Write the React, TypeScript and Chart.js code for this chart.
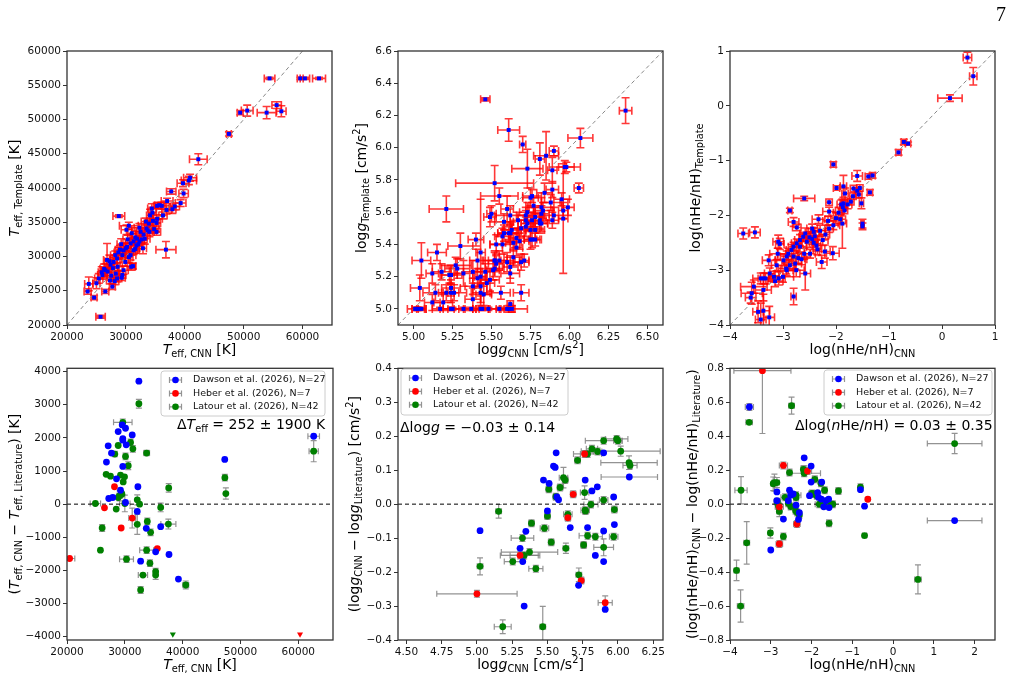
import React, { useEffect, useRef } from 'react';
import { Chart, registerables } from 'chart.js';
Chart.register(...registerables);

const FONT = '"DejaVu Sans", "Liberation Sans", sans-serif';

// ---------------- Panel 1: Teff CNN vs Template ----------------
const p1TeffCnn = [54400,59600,60400,62800,49400,50600,53900,55600,56400,47500,
42300,40900,40700,39700,39800,37700,39300,38300,37000,36100,
35300,35700,34500,34400,28800,30500,35200,36800,33900,33700,
32500,31900,31300,30800,30200,29600,29400,28500,27900,27800,
26800,26500,26000,25400,25000,23700,23500,24600,25700,26500,
27700,28500,29400,29300,30900,31200,29900,31300,31800,32300,
33000,32700,33500,34600,35300,34100,33400,32300,31000,30300,
30000,29200,28700,28200,27400,28600,27500,28100,26900,25900,
26300,27200,30800,31600,32100,30500,29600,28300,27300,33200,
34000,31600,36300,36900,37900,34800,35200,30100,29000,32900];
const p1TeffTpl = [56000,56000,56000,56000,51000,51300,51000,52100,51200,47900,
44200,41500,41100,40700,39200,39500,37800,37300,38100,37400,
37400,37500,36400,37000,35900,34500,34900,31000,34800,33800,
33600,32600,32200,31900,31400,30900,30200,29700,29200,28300,
29500,28000,27300,26800,26100,26000,24900,24000,21200,24900,
25600,26800,27300,26900,28500,28600,29200,30900,31600,32200,
33200,32500,34100,35200,35500,36000,35100,34200,33400,32500,
31200,31800,30600,30200,28800,28500,27200,26400,27800,27700,
28200,29300,30200,31100,31800,29900,28000,27500,26500,32600,
33600,32800,36000,36800,36900,34000,33600,33900,31000,31200];
const p1TeffCnnErr = [900,500,800,1100,500,1000,1600,800,800,400,
1500,1100,1300,1000,800,800,900,800,1000,700,
600,800,700,700,1000,1600,700,1700,800,900,
700,800,700,800,700,800,700,800,600,800,
600,700,800,700,600,700,600,500,800,600,
500,800,600,600,700,500,900,700,900,800,
700,900,800,1000,900,600,800,900,700,800,
900,700,700,800,700,800,600,700,500,600,
700,800,900,700,600,700,800,700,600,900,
800,900,700,800,600,800,700,900,800,600];
const p1TeffTplErr = [150,150,150,150,300,800,900,500,800,300,
800,500,600,500,600,400,500,500,400,500,
400,400,800,700,200,500,500,1200,600,700,
600,700,600,700,600,700,600,700,700,600,
2400,900,600,700,800,1000,400,300,200,300,
400,500,500,400,500,400,600,600,800,700,
800,600,700,800,600,900,500,600,800,600,
700,800,700,600,700,600,600,500,600,800,
700,900,700,600,700,800,600,500,500,800,
700,900,500,600,600,600,500,700,600,800];

// ---------------- Panel 2: log g CNN vs Template ----------------
const p2LoggCnn = [5.46,6.36,5.61,6.07,5.70,5.90,5.81,5.85,5.73,5.89,
5.97,5.98,6.06,5.52,5.21,5.55,5.49,5.50,5.60,5.62,
5.58,5.62,5.61,5.57,5.57,5.53,5.40,5.30,5.15,5.05,
5.18,5.12,5.23,5.24,5.27,5.28,5.32,5.38,5.41,5.43,
5.41,5.43,5.46,5.47,5.49,5.51,5.52,5.52,5.53,5.55,
5.04,5.24,5.24,5.26,5.21,5.14,5.19,5.12,5.38,5.38,
5.43,5.43,5.45,5.56,5.69,5.62,5.62,5.62,5.61,5.63,
5.01,5.02,5.03,5.05,5.17,5.24,5.25,5.32,5.37,5.43,
5.44,5.48,5.55,5.60,5.84,5.89,5.88,5.95,5.99,5.96,
5.96,5.76,5.75,5.77,5.82,5.83,5.82,5.90,5.89,5.81,
5.81,5.82,5.78,5.76,5.75,5.78,5.75,5.76,5.78,5.73,
5.72,5.72,5.73,5.72,5.63,5.62,5.58,5.68,5.64,5.66,
5.69,5.67,5.66,5.69,5.71,5.64,5.60,5.52];
const p2LoggTpl = [6.30,6.23,6.11,6.06,6.02,5.98,5.93,5.95,5.87,5.86,
5.88,5.88,5.75,5.78,5.62,5.70,5.57,5.59,5.62,5.58,
5.54,5.47,5.47,5.45,5.40,5.40,5.43,5.39,5.35,5.30,
5.23,5.22,5.21,5.21,5.27,5.25,5.22,5.23,5.30,5.35,
5.19,5.20,5.23,5.16,5.18,5.24,5.25,5.30,5.28,5.30,
5.13,5.13,5.10,5.10,5.10,5.10,5.04,5.04,5.06,5.14,
5.14,5.10,5.09,5.10,5.10,5.26,5.22,5.03,5.00,5.00,
5.00,5.00,5.00,5.00,5.00,5.00,5.00,5.00,5.00,5.00,
5.00,5.00,5.00,5.00,5.72,5.74,5.66,5.68,5.63,5.61,
5.56,5.70,5.69,5.64,5.63,5.61,5.59,5.58,5.55,5.55,
5.53,5.53,5.57,5.55,5.49,5.49,5.43,5.43,5.43,5.60,
5.58,5.55,5.53,5.51,5.49,5.47,5.47,5.42,5.41,5.44,
5.50,5.55,5.38,5.29,5.30,5.32,5.29,5.30];
const p2LoggCnnErr = [0.03,0.04,0.07,0.08,0.02,0.03,0.03,0.08,0.10,0.03,
0.10,0.05,0.03,0.25,0.11,0.12,0.04,0.03,0.04,0.10,
0.06,0.05,0.07,0.05,0.08,0.04,0.05,0.08,0.06,0.06,
0.06,0.04,0.05,0.07,0.10,0.08,0.06,0.06,0.05,0.03,
0.05,0.04,0.06,0.05,0.06,0.04,0.06,0.08,0.05,0.10,
0.06,0.06,0.05,0.08,0.05,0.08,0.06,0.05,0.05,0.05,
0.04,0.06,0.05,0.06,0.05,0.05,0.06,0.02,0.03,0.10,
0.02,0.06,0.04,0.03,0.05,0.05,0.08,0.06,0.05,0.05,
0.04,0.08,0.06,0.05,0.05,0.04,0.06,0.05,0.04,0.03,
0.03,0.06,0.05,0.05,0.08,0.06,0.05,0.06,0.04,0.06,
0.05,0.04,0.05,0.05,0.04,0.06,0.04,0.05,0.04,0.05,
0.06,0.05,0.04,0.05,0.06,0.05,0.04,0.06,0.05,0.05,
0.06,0.05,0.04,0.05,0.03,0.06,0.08,0.04];
const p2LoggTplErr = [0.01,0.08,0.07,0.06,0.05,0.03,0.10,0.15,0.12,0.08,
0.04,0.03,0.03,0.11,0.08,0.05,0.06,0.05,0.08,0.06,
0.05,0.06,0.04,0.05,0.06,0.06,0.04,0.08,0.05,0.11,
0.05,0.06,0.05,0.06,0.05,0.06,0.08,0.07,0.07,0.33,
0.06,0.05,0.05,0.07,0.07,0.06,0.05,0.06,0.05,0.06,
0.08,0.05,0.06,0.05,0.05,0.05,0.05,0.05,0.07,0.05,
0.06,0.06,0.07,0.04,0.05,0.07,0.06,0.02,0.02,0.02,
0.01,0.01,0.01,0.01,0.01,0.01,0.01,0.01,0.01,0.01,
0.01,0.01,0.01,0.01,0.06,0.05,0.05,0.04,0.05,0.05,
0.34,0.04,0.06,0.05,0.06,0.05,0.05,0.05,0.05,0.05,
0.06,0.05,0.06,0.05,0.05,0.05,0.06,0.05,0.04,0.06,
0.05,0.06,0.05,0.06,0.05,0.05,0.05,0.05,0.05,0.06,
0.05,0.05,0.05,0.05,0.04,0.05,0.06,0.05];

// ---------------- Panel 3: log(nHe/nH) CNN vs Template ----------------
const p3HeCnn = [0.48,0.59,0.15,-0.72,-0.64,-0.82,-2.05,-1.60,-1.39,-1.31,
-1.36,-1.52,-1.50,-1.50,-1.99,-1.86,-1.83,-1.67,-1.60,-1.55,
-1.57,-2.13,-2.60,-2.87,-2.80,-2.74,-3.75,-3.53,-1.92,-1.88,
-1.86,-1.87,-1.84,-2.13,-2.33,-2.05,-2.13,-2.45,-2.42,-2.40,
-2.45,-2.42,-2.37,-2.49,-2.21,-2.06,-2.27,-2.58,-2.80,-2.68,
-2.80,-2.71,-2.77,-2.87,-2.94,-2.93,-3.00,-3.08,-3.17,-3.25,
-3.27,-3.09,-3.06,-3.12,-3.33,-3.37,-3.42,-3.55,-3.59,-3.61,
-3.37,-3.47,-3.37,-3.42,-3.26,-2.99,-2.93,-2.84,-2.80,-2.74,
-2.68,-2.62,-2.58,-2.55,-2.50,-2.35,-2.30,-2.25,-2.20,-2.15,
-2.00,-1.95,-1.90,-1.78,-1.72,-1.68,-2.65,-2.60,-2.90,-3.10,
-2.75,-3.15];
const p3HeTpl = [0.88,0.54,0.14,-0.66,-0.69,-0.85,-1.07,-1.28,-1.29,-1.27,
-1.58,-1.78,-2.15,-2.20,-1.50,-1.47,-1.60,-1.51,-1.55,-1.50,
-1.62,-1.76,-1.69,-1.91,-2.12,-2.22,-2.33,-2.31,-2.07,-2.15,
-1.78,-1.85,-1.91,-1.93,-2.07,-2.18,-2.24,-2.24,-2.30,-2.38,
-2.43,-2.50,-2.55,-2.70,-2.66,-2.69,-2.85,-3.06,-3.48,-2.57,
-2.75,-2.78,-2.88,-2.91,-2.97,-3.00,-3.12,-3.15,-3.12,-3.06,
-2.82,-2.48,-2.52,-2.91,-3.15,-3.15,-3.15,-3.30,-3.42,-3.50,
-3.36,-3.76,-3.74,-3.90,-3.86,-2.82,-2.75,-2.63,-2.57,-2.51,
-2.45,-2.39,-2.33,-2.48,-2.40,-2.62,-2.28,-2.45,-2.35,-2.10,
-2.05,-1.95,-1.80,-1.80,-1.75,-1.65,-2.80,-2.70,-2.70,-2.70,
-3.00,-3.20];
const p3HeCnnErr = [0.08,0.07,0.23,0.05,0.05,0.05,0.05,0.10,0.06,0.05,
0.05,0.04,0.03,0.03,0.06,0.06,0.06,0.06,0.05,0.06,
0.06,0.06,0.20,0.04,0.10,0.08,0.10,0.10,0.10,0.08,
0.06,0.06,0.06,0.12,0.12,0.12,0.08,0.10,0.10,0.08,
0.10,0.08,0.08,0.10,0.10,0.12,0.10,0.10,0.05,0.12,
0.10,0.12,0.12,0.10,0.15,0.12,0.20,0.12,0.10,0.10,
0.12,0.10,0.08,0.10,0.10,0.10,0.15,0.25,0.20,0.10,
0.15,0.10,0.12,0.10,0.10,0.15,0.12,0.10,0.10,0.10,
0.10,0.08,0.10,0.10,0.12,0.08,0.10,0.10,0.08,0.10,
0.10,0.10,0.08,0.08,0.06,0.06,0.10,0.12,0.20,0.15,
0.15,0.15];
const p3HeTplErr = [0.10,0.16,0.06,0.05,0.03,0.05,0.05,0.10,0.05,0.05,
0.05,0.10,0.08,0.06,0.04,0.20,0.10,0.06,0.06,0.06,
0.06,0.06,0.04,0.04,0.08,0.06,0.10,0.10,0.08,0.45,
0.05,0.06,0.06,0.08,0.08,0.08,0.07,0.08,0.08,0.10,
0.10,0.08,0.10,0.08,0.12,0.12,0.12,0.30,0.15,0.10,
0.10,0.10,0.10,0.10,0.10,0.10,0.10,0.12,0.10,0.10,
0.10,0.12,0.10,0.10,0.10,0.10,0.10,0.12,0.20,0.10,
0.20,0.20,0.30,0.30,0.20,0.10,0.10,0.10,0.08,0.08,
0.10,0.08,0.10,0.10,0.10,0.10,0.10,0.10,0.08,0.08,
0.10,0.10,0.08,0.08,0.06,0.06,0.10,0.10,0.10,0.10,
0.12,0.10];

// ---------------- Legend labels ----------------
const surveyLabels = ['Dawson et al. (2026), N=27', 'Heber et al. (2026), N=7', 'Latour et al. (2026), N=42'];

// ---------------- Panel 4: Teff residuals ----------------
const p4DawX = [32430,29550,30120,28850,31280,29650,29650,27120,30240,27690,26820,29650,28560,32260,29250,27910,27220,30120,32150,33710,36200,35330,37640,32730,39270,47280,62660];
const p4DawY = [3710,2390,2290,2190,2090,1980,1930,1760,1790,1540,1270,1140,765,525,420,200,170,50,-220,-730,-680,-1440,-1520,-1720,-2260,1350,2050];
const p4DawXErr = [0,0,0,0,0,0,0,0,0,0,0,0,0,0,0,0,0,0,0,0,0,0,0,0,0,0,1000];
const p4DawYErr = [0,0,0,0,0,0,0,0,0,0,0,0,0,0,0,0,0,0,0,0,0,0,0,0,0,0,0];
const p4HebX = [28210,26480,31280,29370,35620,20450];
const p4HebY = [525,-110,-420,-720,-1340,-1640];
const p4HebXErr = [0,0,600,0,0,900];
const p4HebYErr = [0,0,300,0,0,0];
const p4LatX = [32430,29650,30990,28850,31390,33770,28270,30120,30590,26770,27520,29250,29950,29720,37590,29370,29100,28850,30000,32150,32550,24910,28510,36200,33890,32150,37530,34460,26080,25780,33770,30290,34340,35330,35330,33130,32730,40540,47300,47470,62660,29500];
const p4LatY = [3030,2470,1860,1770,1670,1540,1510,1440,1160,900,845,875,825,670,490,345,250,200,20,130,0,20,-150,-100,-520,-610,-600,-850,-720,-1390,-1390,-1660,-1780,-2040,-2140,-2140,-2590,-2440,800,320,1600,300];
const p4LatXErr = [0,1600,300,0,0,500,0,0,0,0,0,0,0,0,0,0,500,0,900,0,0,900,0,0,0,0,1300,0,0,0,1200,1200,0,0,0,800,0,500,0,0,800,0];
const p4LatYErr = [130,100,100,0,100,80,80,100,120,0,0,0,0,0,130,0,150,0,250,150,0,0,0,130,100,300,150,100,100,0,100,100,100,100,130,0,100,120,100,170,320,0];
const p4LimitLatX = [38300];
const p4LimitLatY = [-3930];
const p4LimitHebX = [60300];
const p4LimitHebY = [-3930];

// ---------------- Panel 5: log g residuals ----------------
const p5DawX = [5.562,5.899,5.543,5.555,5.472,5.512,5.768,6.081,5.854,5.816,5.567,5.579,5.970,5.500,5.022,5.347,5.662,5.785,5.899,5.975,5.306,5.325,5.840,5.899,5.721,5.335,5.910];
const p5DawY = [0.151,0.151,0.112,0.108,0.071,0.061,0.071,0.080,0.051,0.039,0.021,0.013,0.021,-0.020,-0.078,-0.080,-0.069,-0.069,-0.079,-0.060,-0.130,-0.169,-0.151,-0.169,-0.239,-0.300,-0.310];
const p5DawXErr = [0,0,0,0,0,0,0,0.2,0,0,0,0,0,0,0,0,0,0,0,0,0,0,0,0,0,0,0];
const p5DawYErr = [0,0,0,0,0,0,0,0,0,0,0,0,0,0,0,0,0,0,0,0,0,0,0,0,0,0,0];
const p5HebX = [5.764,5.683,5.645,5.306,5.740,5.910,5.000];
const p5HebY = [0.148,0.029,-0.040,-0.151,-0.225,-0.290,-0.264];
const p5HebXErr = [0.03,0.02,0.02,0.14,0.02,0.05,0.285];
const p5HebYErr = [0.01,0.01,0.01,0.01,0.01,0.02,0.01];
const p5LatX = [5.991,6.000,5.899,5.816,5.856,6.020,5.785,5.714,6.079,6.086,5.614,5.626,5.590,5.510,5.560,5.764,5.899,5.809,5.768,5.770,5.975,5.645,5.500,5.154,5.387,5.479,5.323,5.785,5.840,5.970,5.527,5.757,5.631,5.899,5.373,5.335,5.254,5.418,5.022,5.723,5.183,5.467];
const p5LatY = [0.192,0.187,0.187,0.163,0.155,0.156,0.148,0.129,0.122,0.114,0.078,0.071,0.049,0.044,0.022,0.034,0.012,-0.001,-0.018,-0.020,-0.016,-0.030,-0.035,-0.021,-0.056,-0.071,-0.100,-0.093,-0.096,-0.096,-0.112,-0.120,-0.130,-0.127,-0.141,-0.151,-0.169,-0.190,-0.183,-0.208,-0.361,-0.361];
const p5LatXErr = [0.08,0.03,0.13,0.04,0.03,0.28,0.10,0.02,0.20,0.05,0.03,0.02,0.02,0.02,0.02,0.03,0.03,0.05,0.03,0.02,0.02,0.03,0.02,0.02,0.02,0.03,0.08,0.06,0.05,0.03,0.02,0.02,0.02,0.07,0.20,0.10,0.06,0.05,0.02,0.02,0.06,0.02];
const p5LatYErr = [0.01,0.01,0.01,0.01,0.01,0.015,0.01,0.01,0.02,0.01,0.03,0.01,0.01,0.01,0.01,0.02,0.01,0.01,0.01,0.01,0.01,0.01,0.01,0.02,0.01,0.01,0.01,0.01,0.01,0.01,0.01,0.01,0.015,0.025,0.01,0.01,0.01,0.01,0.025,0.02,0.02,0.06];

// ---------------- Panel 6: log(nHe/nH) residuals ----------------
const p6DawX = [-3.525,-2.18,-2.01,-2.01,-2.85,-2.54,-2.51,-1.85,-1.83,-1.76,-1.58,-1.70,-1.57,-2.85,-2.38,-2.57,-2.30,-2.32,-2.69,-0.80,-0.70,-3.00,1.51,-2.45,-1.75,-2.05,-1.65];
const p6DawY = [0.572,0.273,0.224,0.130,0.072,0.082,0.053,0.068,0.040,0.030,0.030,-0.016,-0.020,0.020,-0.006,0.020,-0.050,-0.090,-0.088,0.085,-0.012,-0.270,-0.097,0.060,0.130,0.050,0.020];
const p6DawXErr = [0.1,0,0,0,0,0,0,0,0,0,0,0,0,0,0,0,0,0,0,0,0,0,0.67,0,0,0,0];
const p6DawYErr = [0.02,0,0,0,0,0,0,0,0,0,0,0,0,0,0,0,0,0,0,0,0,0,0,0,0,0,0];
const p6HebX = [-3.205,-2.69,-2.10,-2.79,-2.36,-2.79,-0.62];
const p6HebY = [0.786,0.228,0.195,-0.016,-0.117,-0.234,0.029];
const p6HebXErr = [0.7,0.1,0.1,0.1,0.08,0.08,0.03];
const p6HebYErr = [0.37,0.02,0.02,0.02,0.02,0.02,0.01];
const p6LatX = [-3.53,-2.49,-3.73,1.51,0.61,-3.84,-3.74,-3.59,-3.01,-2.69,-2.91,-2.85,-2.54,-2.18,-2.18,-1.92,-1.77,-1.99,-1.95,-1.68,-1.34,-0.80,-0.70,-1.57,-2.84,-2.81,-2.79,-2.65,-2.57,-2.51,-2.38,-2.38,-2.39,-2.35,-2.30,-1.81,-1.69,-1.60,-1.48,-2.94,-2.20,-1.87];
const p6LatY = [0.482,0.580,0.082,0.357,-0.443,-0.390,-0.600,-0.228,-0.170,-0.190,0.127,0.127,0.186,0.195,0.182,0.146,0.123,0.063,0.060,0.082,0.078,0.100,-0.185,-0.113,0.014,-0.010,-0.043,0.040,0.006,-0.014,0.053,0.039,-0.039,-0.049,-0.064,0.000,0.010,0.016,0.000,0.120,0.205,0.050];
const p6LatXErr = [0.08,0.07,0.15,0.67,0.08,0.06,0.08,0.07,0.05,0.05,0.06,0.06,0.06,0.06,0.40,0.06,0.05,0.08,0.06,0.06,0.06,0.05,0.05,0.06,0.08,0.06,0.06,0.10,0.06,0.06,0.12,0.06,0.06,0.06,0.06,0.10,0.08,0.06,0.06,0.05,0.06,0.06];
const p6LatYErr = [0.01,0.05,0.08,0.06,0.085,0.06,0.095,0.125,0.03,0.02,0.05,0.03,0.02,0.03,0.02,0.02,0.02,0.02,0.02,0.02,0.02,0.02,0.01,0.02,0.02,0.02,0.03,0.02,0.02,0.02,0.02,0.02,0.02,0.02,0.02,0.02,0.02,0.02,0.02,0.04,0.02,0.02];

// ---------------- Tick values ----------------
const tTicksX = [20000, 30000, 40000, 50000, 60000];
const tTicksY1 = [20000, 25000, 30000, 35000, 40000, 45000, 50000, 55000, 60000];
const gTicksX2 = [5.0, 5.25, 5.5, 5.75, 6.0, 6.25, 6.5];
const gTicksY2 = [5.0, 5.2, 5.4, 5.6, 5.8, 6.0, 6.2, 6.4, 6.6];
const heTicks3 = [-4, -3, -2, -1, 0, 1];
const dtTicksY4 = [-4000, -3000, -2000, -1000, 0, 1000, 2000, 3000, 4000];
const gTicksX5 = [4.5, 4.75, 5.0, 5.25, 5.5, 5.75, 6.0, 6.25];
const dgTicksY5 = [-0.4, -0.3, -0.2, -0.1, 0.0, 0.1, 0.2, 0.3, 0.4];
const heTicksX6 = [-4, -3, -2, -1, 0, 1, 2];
const dheTicksY6 = [-0.8, -0.6, -0.4, -0.2, 0.0, 0.2, 0.4, 0.6, 0.8];

// ---------------- helpers ----------------
type Seg = { t: string; it?: boolean; sub?: boolean; sup?: boolean };

function segFont(s: Seg, size: number) {
  const sz = s.sub || s.sup ? size * 0.7 : size;
  return `${s.it ? 'italic ' : ''}${sz}px ${FONT}`;
}

function drawRich(ctx: CanvasRenderingContext2D, segs: Seg[], x: number, y: number, size: number, align: 'left' | 'center') {
  ctx.save();
  ctx.textBaseline = 'middle';
  ctx.textAlign = 'left';
  ctx.fillStyle = '#000';
  let w = 0;
  for (const s of segs) { ctx.font = segFont(s, size); w += ctx.measureText(s.t).width; }
  let cx = align === 'center' ? x - w / 2 : x;
  for (const s of segs) {
    ctx.font = segFont(s, size);
    const dy = s.sub ? size * 0.3 : s.sup ? -size * 0.35 : 0;
    ctx.fillText(s.t, cx, y + dy);
    cx += ctx.measureText(s.t).width;
  }
  ctx.restore();
}

const fmt = (v: number, d: number) => {
  const s = Number(v).toFixed(d);
  return s.startsWith('-') ? '\u2212' + s.slice(1) : s;
};

interface Series {
  label?: string;
  xs: number[]; ys: number[]; ex?: number[]; ey?: number[];
  color: string; style: string; radius: number; rotation?: number;
  errColor?: string; errWidth?: number; cap?: number; legend?: boolean;
}

interface PanelCfg {
  cell: [number, number, number, number];
  plot: [number, number, number, number];
  xr: [number, number]; yr: [number, number];
  xTicks: number[]; yTicks: number[]; xDec: number; yDec: number;
  series: Series[];
  ref: 'diag' | 'zero';
  xLabel: Seg[]; yLabel: Seg[]; yLabelX: number;
  legend?: { x: number; y: number; w: number; h: number };
  annot?: { segs: Seg[]; x: number; y: number };
}

const errorBars = {
  id: 'errorBars',
  beforeDatasetsDraw(chart: any) {
    const { ctx, chartArea: a } = chart;
    const xs = chart.scales.x, ys = chart.scales.y;
    ctx.save();
    ctx.beginPath();
    ctx.rect(a.left, a.top, a.right - a.left, a.bottom - a.top);
    ctx.clip();
    for (const ds of chart.data.datasets as any[]) {
      if (!ds.errX && !ds.errY) continue;
      ctx.strokeStyle = ds.errColor;
      ctx.lineWidth = ds.errWidth;
      const cap = ds.errCap;
      ds.data.forEach((p: any, i: number) => {
        const px = xs.getPixelForValue(p.x), py = ys.getPixelForValue(p.y);
        const ex = ds.errX ? ds.errX[i] : 0;
        const ey = ds.errY ? ds.errY[i] : 0;
        ctx.beginPath();
        if (ex > 0) {
          const l = xs.getPixelForValue(p.x - ex), r = xs.getPixelForValue(p.x + ex);
          ctx.moveTo(l, py); ctx.lineTo(r, py);
          ctx.moveTo(l, py - cap); ctx.lineTo(l, py + cap);
          ctx.moveTo(r, py - cap); ctx.lineTo(r, py + cap);
        }
        if (ey > 0) {
          const t = ys.getPixelForValue(p.y + ey), b = ys.getPixelForValue(p.y - ey);
          ctx.moveTo(px, t); ctx.lineTo(px, b);
          ctx.moveTo(px - cap, t); ctx.lineTo(px + cap, t);
          ctx.moveTo(px - cap, b); ctx.lineTo(px + cap, b);
        }
        ctx.stroke();
      });
    }
    ctx.restore();
  },
};

function decorPlugin(cfg: PanelCfg) {
  return {
    id: 'decor',
    afterDraw(chart: any) {
      const ctx: CanvasRenderingContext2D = chart.ctx;
      const a = chart.chartArea;
      const ox = cfg.cell[0], oy = cfg.cell[1];
      ctx.save();
      ctx.strokeStyle = '#333';
      ctx.lineWidth = 1.3;
      ctx.strokeRect(a.left, a.top, a.right - a.left, a.bottom - a.top);
      drawRich(ctx, cfg.xLabel, (a.left + a.right) / 2, cfg.plot[3] + 25 - oy, 14, 'center');
      ctx.save();
      ctx.translate(cfg.yLabelX - ox, (a.top + a.bottom) / 2);
      ctx.rotate(-Math.PI / 2);
      drawRich(ctx, cfg.yLabel, 0, 0, 14, 'center');
      ctx.restore();
      if (cfg.legend) {
        const L = cfg.legend;
        const lx = L.x - ox, ly = L.y - oy;
        ctx.fillStyle = 'rgba(255,255,255,0.8)';
        ctx.strokeStyle = '#cccccc';
        ctx.lineWidth = 1;
        ctx.beginPath();
        (ctx as any).roundRect(lx, ly, L.w, L.h, 3);
        ctx.fill();
        ctx.stroke();
        const items = (chart.data.datasets as any[]).filter((d) => d.showInLegend);
        items.forEach((d, i) => {
          const my = ly + 9 + i * 13.4;
          const mx = lx + 14.5;
          ctx.strokeStyle = 'rgba(128,128,128,0.85)';
          ctx.lineWidth = 1.2;
          ctx.beginPath();
          ctx.moveTo(mx - 6, my); ctx.lineTo(mx + 6, my);
          ctx.moveTo(mx - 6, my - 3); ctx.lineTo(mx - 6, my + 3);
          ctx.moveTo(mx + 6, my - 3); ctx.lineTo(mx + 6, my + 3);
          ctx.stroke();
          ctx.fillStyle = d.backgroundColor;
          ctx.beginPath();
          ctx.arc(mx, my, 3.3, 0, Math.PI * 2);
          ctx.fill();
          ctx.fillStyle = '#111';
          ctx.font = `9.5px ${FONT}`;
          ctx.textBaseline = 'middle';
          ctx.textAlign = 'left';
          ctx.fillText(d.label, lx + 32, my);
        });
      }
      if (cfg.annot) {
        drawRich(ctx, cfg.annot.segs, cfg.annot.x - ox, cfg.annot.y - oy, 14, 'left');
      }
      ctx.restore();
    },
  };
}

function scaleOpts(min: number, max: number, ticks: number[], dec: number, fit: (s: any) => void) {
  return {
    type: 'linear',
    min, max,
    afterBuildTicks: (axis: any) => { axis.ticks = ticks.map((v) => ({ value: v })); },
    afterFit: fit,
    ticks: {
      font: { family: FONT, size: 10.5 },
      color: '#111',
      padding: 2,
      autoSkip: false,
      maxRotation: 0,
      minRotation: 0,
      callback: (v: any) => fmt(v, dec),
    },
    grid: { display: true, drawOnChartArea: false, drawTicks: true, tickLength: 4, tickColor: '#333', tickWidth: 1, color: '#333' },
    border: { display: false },
  };
}

function buildConfig(cfg: PanelCfg): any {
  const [cl, ct, cw, ch] = cfg.cell;
  const [pl, pt, pr, pb] = cfg.plot;
  const datasets: any[] = cfg.series.map((s) => ({
    label: s.label,
    data: s.xs.map((x, i) => ({ x, y: s.ys[i] })),
    pointStyle: s.style,
    pointRadius: s.radius,
    pointRotation: s.rotation || 0,
    backgroundColor: s.color,
    borderColor: s.color,
    borderWidth: 0,
    pointBorderWidth: 0,
    showLine: false,
    errX: s.ex, errY: s.ey,
    errColor: s.errColor, errWidth: s.errWidth, errCap: s.cap,
    showInLegend: !!s.legend,
  }));
  const refData = cfg.ref === 'diag'
    ? [{ x: cfg.xr[0], y: cfg.xr[0] }, { x: cfg.xr[1], y: cfg.xr[1] }]
    : [{ x: cfg.xr[0], y: 0 }, { x: cfg.xr[1], y: 0 }];
  datasets.push({
    data: refData,
    showLine: true,
    pointRadius: 0,
    borderColor: cfg.ref === 'diag' ? '#888888' : '#000000',
    borderWidth: 1,
    borderDash: [4, 3],
    fill: false,
    showInLegend: false,
  });
  return {
    type: 'scatter',
    data: { datasets },
    options: {
      animation: false,
      responsive: false,
      devicePixelRatio: 1,
      layout: { padding: { left: 0, top: pt - ct, right: cl + cw - pr, bottom: 0 } },
      plugins: { legend: { display: false }, tooltip: { enabled: false } },
      scales: {
        x: { position: 'bottom', ...scaleOpts(cfg.xr[0], cfg.xr[1], cfg.xTicks, cfg.xDec, (s: any) => { s.height = ct + ch - pb; }) },
        y: { position: 'left', ...scaleOpts(cfg.yr[0], cfg.yr[1], cfg.yTicks, cfg.yDec, (s: any) => { s.width = pl - cl; }) },
      },
    },
    plugins: [errorBars, decorPlugin(cfg)],
  };
}

const BLUE = '#0000ff', RED = '#ff0000', GREEN = '#008000';
const RED_ERR = 'rgba(255,0,0,0.78)', GRAY_ERR = 'rgba(128,128,128,0.85)';

function topSeries(xs: number[], ys: number[], ex: number[], ey: number[]): Series[] {
  return [{ xs, ys, ex, ey, color: BLUE, style: 'rect', radius: 2.8, errColor: RED_ERR, errWidth: 1.6, cap: 4 }];
}

function surveySeries(d: [number[], number[], number[], number[]], h: [number[], number[], number[], number[]], l: [number[], number[], number[], number[]]): Series[] {
  const mk = (v: [number[], number[], number[], number[]], color: string, label: string): Series => ({
    label, xs: v[0], ys: v[1], ex: v[2], ey: v[3], color, style: 'circle', radius: 3.4,
    errColor: GRAY_ERR, errWidth: 1.2, cap: 3, legend: true,
  });
  return [mk(d, BLUE, surveyLabels[0]), mk(h, RED, surveyLabels[1]), mk(l, GREEN, surveyLabels[2])];
}

const teffCnnLabel: Seg[] = [{ t: 'T', it: true }, { t: 'eff, CNN', sub: true }, { t: ' [K]' }];
const loggCnnLabel: Seg[] = [{ t: 'log' }, { t: 'g', it: true }, { t: 'CNN', sub: true }, { t: ' [cm/s' }, { t: '2', sup: true }, { t: ']' }];
const heCnnLabel: Seg[] = [{ t: 'log(nHe/nH)' }, { t: 'CNN', sub: true }];

const panels: PanelCfg[] = [
  {
    cell: [0, 0, 340, 360], plot: [67, 51, 332, 325],
    xr: [20000, 65000], yr: [20000, 60000], xTicks: tTicksX, yTicks: tTicksY1, xDec: 0, yDec: 0,
    series: topSeries(p1TeffCnn, p1TeffTpl, p1TeffCnnErr, p1TeffTplErr), ref: 'diag',
    xLabel: teffCnnLabel,
    yLabel: [{ t: 'T', it: true }, { t: 'eff, Template', sub: true }, { t: ' [K]' }], yLabelX: 15,
  },
  {
    cell: [340, 0, 340, 360], plot: [398, 51, 663, 325],
    xr: [4.9, 6.6], yr: [4.9, 6.6], xTicks: gTicksX2, yTicks: gTicksY2, xDec: 2, yDec: 1,
    series: topSeries(p2LoggCnn, p2LoggTpl, p2LoggCnnErr, p2LoggTplErr), ref: 'diag',
    xLabel: loggCnnLabel,
    yLabel: [{ t: 'log' }, { t: 'g', it: true }, { t: 'Template', sub: true }, { t: ' [cm/s' }, { t: '2', sup: true }, { t: ']' }], yLabelX: 362,
  },
  {
    cell: [680, 0, 340, 360], plot: [730, 51, 995, 325],
    xr: [-4, 1], yr: [-4, 1], xTicks: heTicks3, yTicks: heTicks3, xDec: 0, yDec: 0,
    series: topSeries(p3HeCnn, p3HeTpl, p3HeCnnErr, p3HeTplErr), ref: 'diag',
    xLabel: heCnnLabel,
    yLabel: [{ t: 'log(nHe/nH)' }, { t: 'Template', sub: true }], yLabelX: 696,
  },
  {
    cell: [0, 360, 340, 321], plot: [67, 366, 333, 640],
    xr: [20000, 66000], yr: [-4100, 4100], xTicks: tTicksX, yTicks: dtTicksY4, xDec: 0, yDec: 0,
    series: [
      ...surveySeries([p4DawX, p4DawY, p4DawXErr, p4DawYErr], [p4HebX, p4HebY, p4HebXErr, p4HebYErr], [p4LatX, p4LatY, p4LatXErr, p4LatYErr]),
      { xs: p4LimitLatX, ys: p4LimitLatY, color: GREEN, style: 'triangle', radius: 3.5, rotation: 180 },
      { xs: p4LimitHebX, ys: p4LimitHebY, color: RED, style: 'triangle', radius: 3.5, rotation: 180 },
    ],
    ref: 'zero',
    xLabel: teffCnnLabel,
    yLabel: [{ t: '(' }, { t: 'T', it: true }, { t: 'eff, CNN', sub: true }, { t: ' \u2212 ' }, { t: 'T', it: true }, { t: 'eff, Literature', sub: true }, { t: ') [K]' }], yLabelX: 15,
    legend: { x: 161, y: 371, w: 164, h: 45 },
    annot: { segs: [{ t: '\u0394' }, { t: 'T', it: true }, { t: 'eff', sub: true }, { t: ' = 252 \u00b1 1900 K' }], x: 177, y: 425 },
  },
  {
    cell: [340, 360, 340, 321], plot: [398, 366, 663, 640],
    xr: [4.44, 6.32], yr: [-0.4, 0.4], xTicks: gTicksX5, yTicks: dgTicksY5, xDec: 2, yDec: 1,
    series: surveySeries([p5DawX, p5DawY, p5DawXErr, p5DawYErr], [p5HebX, p5HebY, p5HebXErr, p5HebYErr], [p5LatX, p5LatY, p5LatXErr, p5LatYErr]),
    ref: 'zero',
    xLabel: loggCnnLabel,
    yLabel: [{ t: '(log' }, { t: 'g', it: true }, { t: 'CNN', sub: true }, { t: ' \u2212 log' }, { t: 'g', it: true }, { t: 'Literature', sub: true }, { t: ') [cm/s' }, { t: '2', sup: true }, { t: ']' }], yLabelX: 355,
    legend: { x: 401, y: 369, w: 167, h: 46 },
    annot: { segs: [{ t: '\u0394log' }, { t: 'g', it: true }, { t: ' = \u22120.03 \u00b1 0.14' }], x: 400, y: 428 },
  },
  {
    cell: [680, 360, 340, 321], plot: [730, 366, 995, 640],
    xr: [-4, 2.5], yr: [-0.8, 0.8], xTicks: heTicksX6, yTicks: dheTicksY6, xDec: 0, yDec: 1,
    series: surveySeries([p6DawX, p6DawY, p6DawXErr, p6DawYErr], [p6HebX, p6HebY, p6HebXErr, p6HebYErr], [p6LatX, p6LatY, p6LatXErr, p6LatYErr]),
    ref: 'zero',
    xLabel: heCnnLabel,
    yLabel: [{ t: '(log(nHe/nH)' }, { t: 'CNN', sub: true }, { t: ' \u2212 log(nHe/nH)' }, { t: 'Literature', sub: true }, { t: ')' }], yLabelX: 693,
    legend: { x: 824, y: 370, w: 168, h: 45 },
    annot: { segs: [{ t: '\u0394log(' }, { t: 'n', it: true }, { t: 'He/' }, { t: 'n', it: true }, { t: 'H) = 0.03 \u00b1 0.35' }], x: 795, y: 426 },
  },
];

function Panel({ cfg }: { cfg: PanelCfg }) {
  const ref = useRef<HTMLCanvasElement>(null);
  useEffect(() => {
    const chart = new Chart(ref.current as HTMLCanvasElement, buildConfig(cfg));
    return () => chart.destroy();
  }, [cfg]);
  const [l, t, w, h] = cfg.cell;
  return (
    <canvas
      ref={ref}
      width={w}
      height={h}
      style={{ position: 'absolute', left: l, top: t, width: w, height: h }}
    />
  );
}

export default function App() {
  return (
    <div style={{ position: 'absolute', left: 0, top: 0, width: 1020, height: 681, background: '#fff', overflow: 'hidden' }}>
      {panels.map((p, i) => <Panel key={i} cfg={p} />)}
      <div style={{ position: 'absolute', left: 996, top: 3, fontFamily: '"Liberation Serif", "DejaVu Serif", serif', fontSize: 20, color: '#000' }}>7</div>
    </div>
  );
}
